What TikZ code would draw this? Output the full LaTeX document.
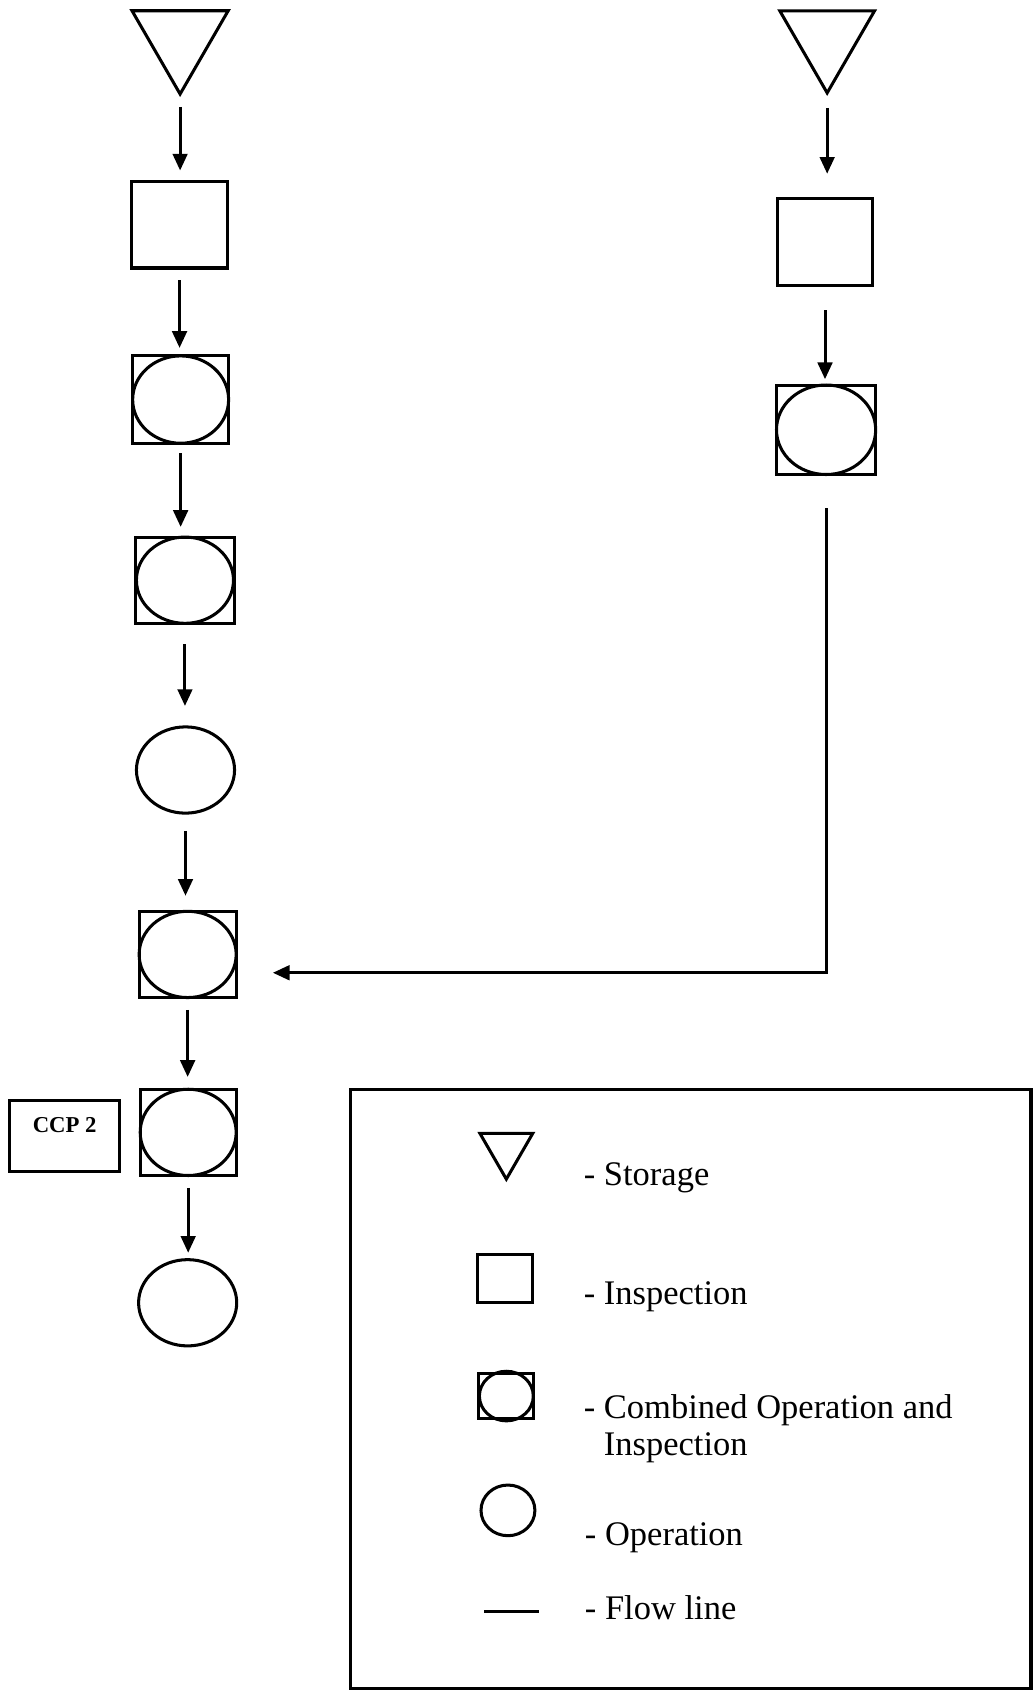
\documentclass[tikz,border=0pt]{standalone}
\usepackage{fontspec}
\setmainfont{Liberation Serif}
\usetikzlibrary{arrows.meta,shapes.geometric}
\tikzset{
  % flow-process chart symbols
  store/.style   = {regular polygon, regular polygon sides=3, shape border rotate=180,
                    draw, inner sep=0pt, minimum size=#1},
  store/.default = 2.06cm,
  insp/.style    = {rectangle, draw, inner sep=0pt, minimum width=1.78cm, minimum height=1.6cm},
  oper/.style    = {ellipse, draw, inner sep=0pt, minimum width=1.82cm, minimum height=1.6cm},
  combo/.style 2 args = {insp, append after command={\pgfextra{%
                    \draw (\tikzlastnode.center) ellipse [x radius=#1, y radius=#2];}}},
  ccpbox/.style  = {rectangle, draw, font=\bfseries\fontsize{12}{14}\selectfont,
                    minimum width=2.04cm, inner ysep=0.32cm, text height=0.28cm, text depth=0.4cm},
  flow/.style    = {-{Triangle[length=3.1mm,width=2.7mm]}},
  key/.style     = {font=\fontsize{18.2}{19.5}\selectfont, anchor=base west, align=left, inner sep=0pt},
}
\begin{document}
\begin{tikzpicture}[x=0.02cm,y=-0.02cm,line width=1.6pt]
\useasboundingbox (0,0) rectangle (958,1568);
% left line
\node[store] (ls) at (167,35.7) {};
\node[insp] (li) at (166.5,208.5) {};
\node[combo={0.89cm}{0.81cm}, minimum height=1.62cm] (lc1) at (167.5,370.5) {};
\node[combo={0.9cm}{0.8cm}, minimum width=1.82cm] (lc2) at (171.5,538) {};
\node[oper] (lo1) at (172,714) {};
\node[combo={0.9cm}{0.8cm}, minimum width=1.8cm] (lc3) at (174,885) {};
\node[combo={0.89cm}{0.8cm}] (lc4) at (174.5,1050) {};
\node[oper] (lo2) at (174,1208) {};
\node[ccpbox, anchor=north] (ccp) at (60,1019) {CCP 2};
\foreach \a/\b/\s/\e in {ls/li/.18cm/.18cm, li/lc1/.2cm/.12cm, lc1/lc2/.16cm/.16cm,
    lc2/lo1/.36cm/.36cm, lo1/lc3/.3cm/.26cm, lc3/lc4/.2cm/.2cm, lc4/lo2/.2cm/.1cm}
  {\draw[flow, shorten <=\s, shorten >=\e] (\a.south) -- (\a.south |- \b.north);}
% right line
\node[store=2.03cm] (rs) at (767,35.4) {};
\node[insp, minimum width=1.76cm] (ri) at (765,224.5) {};
\node[combo={0.92cm}{0.83cm}, minimum width=1.84cm, minimum height=1.66cm] (rc) at (766,398.5) {};
\foreach \a/\b/\s/\e in {rs/ri/.22cm/.44cm, ri/rc/.44cm/.08cm}
  {\draw[flow, shorten <=\s, shorten >=\e] (\a.south) -- (\a.south |- \b.north);}
\coordinate (join) at (253,902);
\draw[flow, shorten <=0.6cm] (rc.south) |- (join);
% legend
\draw (325,1010) rectangle (956,1566);
\node[store=1.13cm] (ks) at (469.5,1065.1) {};
\node[insp, minimum width=1.02cm, minimum height=0.9cm] (ki) at (468.5,1185.5) {};
\node[combo={0.5cm}{0.46cm}, minimum width=1.02cm, minimum height=0.82cm] (kc) at (469.5,1294.5) {};
\node[oper, minimum width=1cm, minimum height=0.94cm] (ko) at (471,1400.5) {};
\draw (449,1494) -- (500,1494);
\node[key] at (540,1099) {- Storage};
\node[key] at (540,1210) {- Inspection};
\node[key] at (540,1350) {- Combined Operation and\\\phantom{- }Inspection};
\node[key] at (541,1433) {- Operation};
\node[key] at (541,1502) {- Flow line};
\end{tikzpicture}
\end{document}
